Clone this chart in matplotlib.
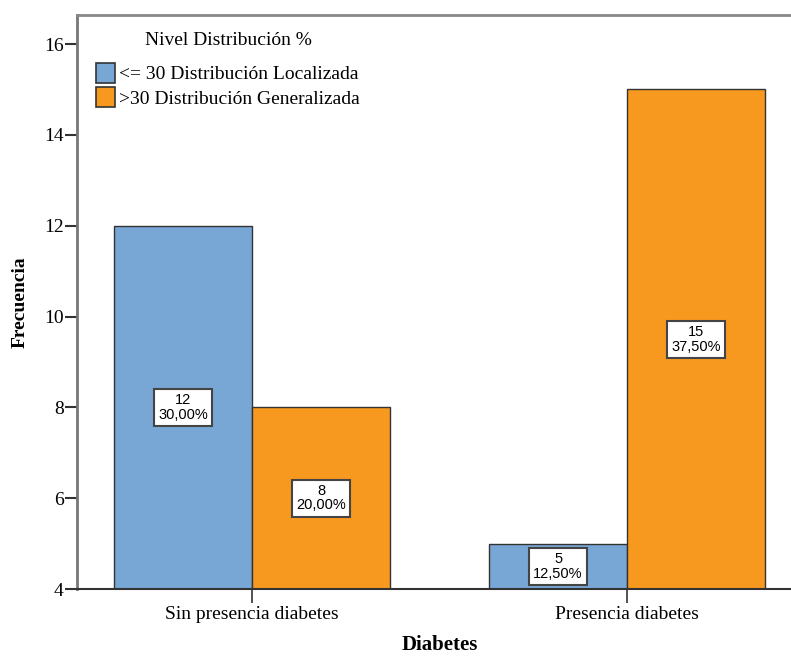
import matplotlib
matplotlib.use("Agg")
import matplotlib.pyplot as plt
from matplotlib.patches import Patch
import numpy as np

# Data
categories = ["Sin presencia diabetes", "Presencia diabetes"]
series_names = ["<= 30 Distribución Localizada", ">30 Distribución Generalizada"]
localizada = [12, 5]
generalizada = [8, 15]
pct_localizada = ["30,00%", "12,50%"]
pct_generalizada = ["20,00%", "37,50%"]
yticks = [4, 6, 8, 10, 12, 14, 16]

colors = ["#79a7d5", "#f7981f"]
serif = "Liberation Serif"
sans = "Liberation Sans"

W, H = 791, 656
px = 72 / 100  # points per pixel at 100 dpi
fig = plt.figure(figsize=(W / 100, H / 100), dpi=100)
ax = fig.add_axes([77 / W, 67 / H, (W - 77) / W, (589 - 15) / H])

x = np.arange(len(categories))
bw = 0.368
base = 4

for vals, pcts, col, off in [(localizada, pct_localizada, colors[0], -bw / 2),
                             (generalizada, pct_generalizada, colors[1], bw / 2)]:
    heights = [v - base for v in vals]
    ax.bar(x + off, heights, bw, bottom=base, color=col, edgecolor="#333333",
           linewidth=1.0, zorder=2)
    for xi, v, p in zip(x, vals, pcts):
        ax.text(xi + off, (v + base) / 2, f"{v}\n{p}", ha="center", va="center",
                family=sans, fontsize=10.5, linespacing=1.05, zorder=4,
                bbox=dict(boxstyle="square,pad=0.3", facecolor="white",
                          edgecolor="#444444", linewidth=1.5))

ax.set_xlim(-0.467, 1.437)
ax.set_ylim(4, 16.64)
ax.set_yticks(yticks)
ax.set_yticklabels([str(t) for t in yticks], family=serif, fontsize=14)
ax.set_xticks(x)
ax.set_xticklabels(categories, family=serif, fontsize=14)
ax.tick_params(axis="y", length=12 * px, width=1.5, color="#333333", pad=1)
ax.tick_params(axis="x", length=14 * px, width=1.2, color="#333333", pad=2)

ax.spines["right"].set_visible(False)
ax.spines["top"].set_color("#888888")
ax.spines["top"].set_linewidth(2)
ax.spines["left"].set_color("#777777")
ax.spines["left"].set_linewidth(2)
ax.spines["bottom"].set_color("#333333")
ax.spines["bottom"].set_linewidth(1.5)

fig.text(20 / W, 1 - 302 / H, "Frecuencia", rotation=90, ha="center", va="center",
         family=serif, fontsize=14, fontweight="bold")
fig.text(440 / W, 0.5 / H, "Diabetes", ha="center", va="bottom",
         family=serif, fontsize=15, fontweight="bold")

handles = [Patch(facecolor=c, edgecolor="#333333", linewidth=1.2) for c in colors]
leg = ax.legend(handles, series_names, title="Nivel Distribución %",
                loc="upper left", bbox_to_anchor=(96 / W, 1 - 32 / H),
                bbox_transform=fig.transFigure, frameon=False,
                prop=dict(family=serif, size=14), handlelength=1.0,
                handleheight=1.2, handletextpad=0.2, labelspacing=0.2,
                borderaxespad=0, borderpad=0)
leg.get_title().set_fontfamily(serif)
leg.get_title().set_fontsize(14)
leg._legend_box.sep = 10

fig.savefig("out.png", dpi=100)
